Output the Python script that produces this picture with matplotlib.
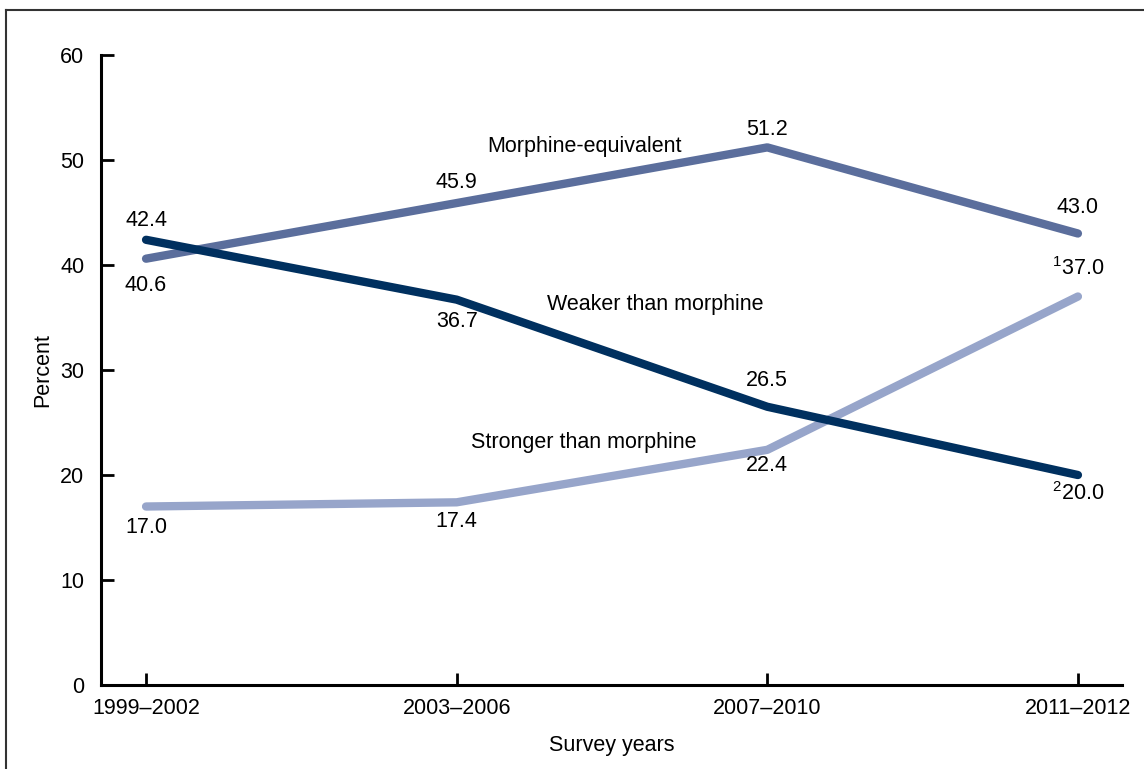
import matplotlib.pyplot as plt
from matplotlib.lines import Line2D

plt.rcParams['font.family'] = ['Liberation Sans', 'DejaVu Sans']
plt.rcParams['mathtext.fontset'] = 'custom'
plt.rcParams['mathtext.rm'] = 'Liberation Sans'
plt.rcParams['mathtext.it'] = 'Liberation Sans'

# data
periods = ['1999–2002', '2003–2006', '2007–2010', '2011–2012']
morphine_eq = [40.6, 45.9, 51.2, 43.0]
weaker = [42.4, 36.7, 26.5, 20.0]
stronger = [17.0, 17.4, 22.4, 37.0]

morphine_lbl = ['40.6', '45.9', '51.2', '43.0']
weaker_lbl = ['42.4', '36.7', '26.5', '$^{2}$20.0']
stronger_lbl = ['17.0', '17.4', '22.4', '$^{1}$37.0']

c_morph = '#5b6e9c'
c_weak = '#00305f'
c_strong = '#97a5ca'

fig = plt.figure(figsize=(11.44, 7.69), dpi=100)
ax = fig.add_axes([0.0883, 0.1092, 0.8925, 0.8193])

x = list(range(len(periods)))
ax.plot(x, morphine_eq, color=c_morph, lw=6, solid_capstyle='round', solid_joinstyle='round')
ax.plot(x, stronger, color=c_strong, lw=6, solid_capstyle='round', solid_joinstyle='round')
ax.plot(x, weaker, color=c_weak, lw=6, solid_capstyle='round', solid_joinstyle='round')

fs = 15.5
# value labels: offsets in points (above = positive)
morph_off = [-19, 15, 13, 19]
weak_off = [14, -16, 19, -13]
strong_off = [-15, -14, -11, 20]
for vals, lbls, offs in [(morphine_eq, morphine_lbl, morph_off),
                         (weaker, weaker_lbl, weak_off),
                         (stronger, stronger_lbl, strong_off)]:
    for xi, v, s, o in zip(x, vals, lbls, offs):
        ax.annotate(s, (xi, v), xytext=(0, o), textcoords='offset points',
                    ha='center', va='center', fontsize=fs)

# series labels
ax.text(1.41, 51.3, 'Morphine-equivalent', ha='center', va='center', fontsize=fs)
ax.text(1.64, 36.2, 'Weaker than morphine', ha='center', va='center', fontsize=fs)
ax.text(1.41, 23.1, 'Stronger than morphine', ha='center', va='center', fontsize=fs)

ax.set_xlim(-0.145, 3.142)
ax.set_ylim(0, 60)
ax.set_yticks(range(0, 61, 10))
ax.set_xticks(x)
ax.set_xticklabels(periods)
ax.tick_params(direction='in', length=9, width=2, labelsize=fs, pad=9, color='black')
ax.tick_params(axis='y', pad=12)
for sp in ['top', 'right']:
    ax.spines[sp].set_visible(False)
for sp in ['left', 'bottom']:
    ax.spines[sp].set_linewidth(2.2)

ax.set_ylabel('Percent', fontsize=fs, labelpad=5)
ax.set_xlabel('Survey years', fontsize=fs, labelpad=12)

# outer frame (top and left edges visible)
fig.add_artist(Line2D([6 / 1144, 1.0], [1 - 10 / 769, 1 - 10 / 769], color='#333333', lw=1.5,
                      transform=fig.transFigure))
fig.add_artist(Line2D([6 / 1144, 6 / 1144], [0, 1 - 10 / 769], color='#333333', lw=1.5,
                      transform=fig.transFigure))

fig.savefig('out.png', dpi=100)
